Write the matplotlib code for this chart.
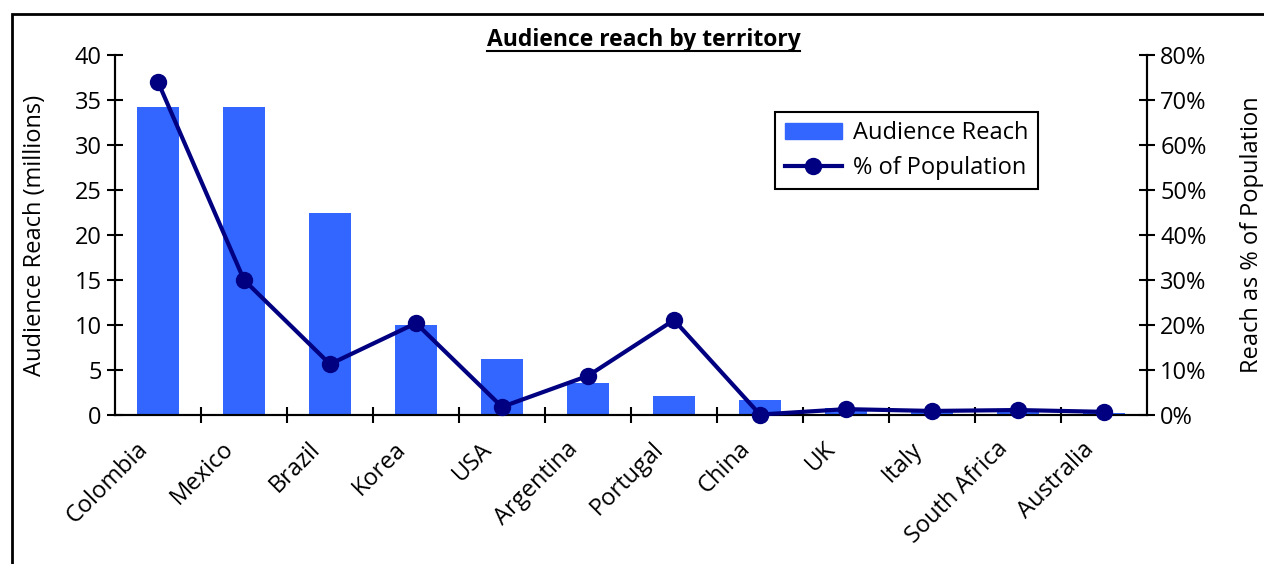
import numpy as np
import matplotlib
matplotlib.use("Agg")
import matplotlib.pyplot as plt
import matplotlib.transforms as mtransforms
from matplotlib.patches import Rectangle
from matplotlib.lines import Line2D
from matplotlib.ticker import FuncFormatter, FixedLocator

plt.rcParams["font.family"] = ["Open Sans", "DejaVu Sans"]

# ── data ──────────────────────────────────────────────────────
territories = ["Colombia", "Mexico", "Brazil", "Korea", "USA", "Argentina",
               "Portugal", "China", "UK", "Italy", "South Africa", "Australia"]
reach_millions = [34.2, 34.2, 22.4, 10.0, 6.2, 3.6, 2.1, 1.7, 0.8, 0.5, 0.6, 0.2]
pct_population = [74.0, 30.0, 11.3, 20.4, 1.8, 8.7, 21.1, 0.1, 1.3, 0.9, 1.1, 0.7]

C_BAR = "#3366FF"
C_LINE = "#000080"
FS = 17

fig = plt.figure(figsize=(12.64, 5.64), dpi=100)
ax = fig.add_axes([0.091, 0.2642, 0.8164, 0.6383])
ax2 = ax.twinx()

x = np.arange(len(territories))
ax.bar(x, reach_millions, width=0.49, color=C_BAR, zorder=2)
ax2.plot(x, pct_population, color=C_LINE, lw=3, marker="o", ms=11.5, zorder=3,
         clip_on=False)

ax.set_xlim(-0.5, len(territories) - 0.5)
ax.set_ylim(0, 40)
ax2.set_ylim(0, 80)
ax.set_yticks(np.arange(0, 41, 5))
ax2.set_yticks(np.arange(0, 81, 10))
ax2.yaxis.set_major_formatter(FuncFormatter(lambda v, _: f"{v:.0f}%"))

# category labels at centres, tick marks at the boundaries
ax.set_xticks(x)
ax.set_xticklabels(territories, rotation=45, ha="right", rotation_mode="anchor",
                   fontsize=FS)
ax.tick_params(axis="x", which="major", length=0, pad=16)
shift = mtransforms.ScaledTranslation(-22 / 100, 0, fig.dpi_scale_trans)
for lab in ax.get_xticklabels():
    lab.set_transform(lab.get_transform() + shift)
ax.xaxis.set_minor_locator(FixedLocator(np.arange(0.5, len(territories) - 0.5, 1)))
ax.tick_params(axis="x", which="minor", direction="inout", length=12, width=1.5)

ax.tick_params(axis="y", direction="inout", length=12, width=1.5, labelsize=FS)
ax2.tick_params(axis="y", direction="inout", length=12, width=1.5, labelsize=FS)

for a in (ax, ax2):
    a.spines["top"].set_visible(False)
    for s in ("left", "right", "bottom"):
        a.spines[s].set_linewidth(1.5)

ax.set_ylabel("Audience Reach (millions)", fontsize=FS, labelpad=20)
ax2.set_ylabel("Reach as % of Population", fontsize=FS, labelpad=24)

# legend
handles = [
    Rectangle((0, 0), 1, 1, color=C_BAR, label="Audience Reach"),
    Line2D([], [], color=C_LINE, lw=3, marker="o", ms=11.5, label="% of Population"),
]
leg = ax2.legend(handles=handles, loc="upper left", bbox_to_anchor=(0.640, 0.842),
                 fontsize=FS, fancybox=False, framealpha=1, edgecolor="black",
                 borderpad=0.4, handlelength=2.4, handletextpad=0.5,
                 labelspacing=0.45, borderaxespad=0)
leg.get_frame().set_linewidth(1.5)

# title, underlined
title = fig.text(0.509, 0.929, "Audience reach by territory", ha="center",
                 va="center", fontsize=16.5, fontweight="bold")
fig.canvas.draw()
bb = title.get_window_extent().transformed(fig.transFigure.inverted())
fig.add_artist(Line2D([bb.x0, bb.x1], [bb.y0 + 0.002, bb.y0 + 0.002],
                      color="black", lw=1.5, transform=fig.transFigure))

# outer frame of the chart area
fig.add_artist(Rectangle((12 / 1264, -0.05), 1.1, 1 - 14 / 564 + 0.05,
                         fill=False, edgecolor="black", lw=2,
                         transform=fig.transFigure))

fig.savefig("out.png", dpi=100)
